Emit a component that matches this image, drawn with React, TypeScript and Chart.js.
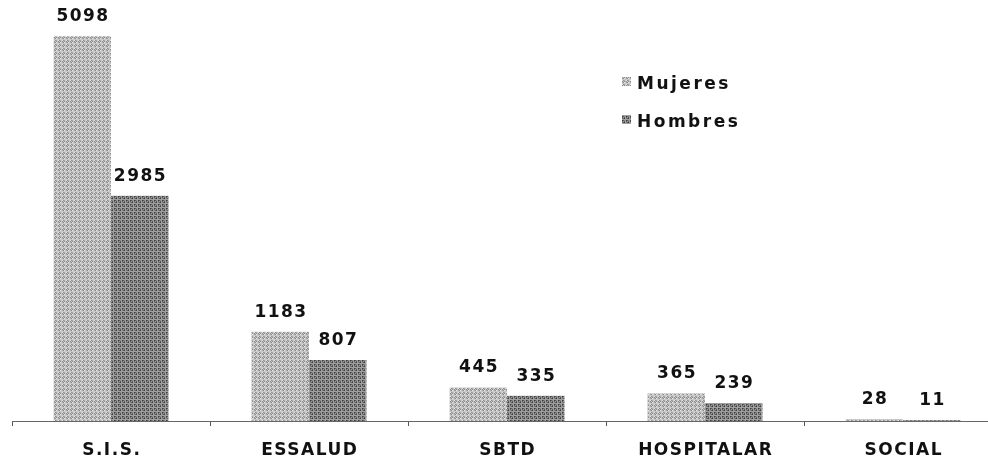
import React, { useEffect, useRef } from "react";
import { Chart, registerables } from "chart.js";

Chart.register(...registerables);

const categories = ["S.I.S.", "ESSALUD", "SBTD", "HOSPITALAR", "SOCIAL"];
const mujeres = [5098, 1183, 445, 365, 28];
const hombres = [2985, 807, 335, 239, 11];
const seriesNames = ["Mujeres", "Hombres"];

function makePattern(light: number, dark: number, seed: number): CanvasPattern | string {
  const c = document.createElement("canvas");
  c.width = 8;
  c.height = 8;
  const ctx = c.getContext("2d");
  if (!ctx) return `rgb(${light},${light},${light})`;
  for (let y = 0; y < 8; y++) {
    for (let x = 0; x < 8; x++) {
      const h = (x * 5 + y * 3 + ((x * y + seed) % 4)) % 4;
      const v = h === 0 ? dark : h === 1 ? Math.round((light + dark) / 2) : h === 2 ? light : Math.min(255, light + 30);
      ctx.fillStyle = `rgb(${v},${v},${v})`;
      ctx.fillRect(x, y, 1, 1);
    }
  }
  const p = ctx.createPattern(c, "repeat");
  return p || `rgb(${light},${light},${light})`;
}

const FONT = "'DejaVu Sans', 'Open Sans', sans-serif";

function spacedText(ctx: any, text: string, x: number, y: number, spacing: number) {
  ctx.letterSpacing = `${spacing}px`;
  ctx.fillText(text, x + spacing / 2, y);
  ctx.letterSpacing = "0px";
}

export default function App() {
  const ref = useRef<HTMLCanvasElement>(null);
  useEffect(() => {
    if (!ref.current) return;
    const fillM = makePattern(200, 140, 1);
    const fillH = makePattern(130, 60, 2);

    const labelsPlugin = {
      id: "valueLabels",
      afterDatasetsDraw(chart: any) {
        const ctx = chart.ctx;
        ctx.save();
        ctx.fillStyle = "#111";
        ctx.font = `bold 17px ${FONT}`;
        ctx.textAlign = "center";
        ctx.textBaseline = "alphabetic";
        chart.data.datasets.forEach((ds: any, di: number) => {
          const meta = chart.getDatasetMeta(di);
          meta.data.forEach((bar: any, i: number) => {
            spacedText(ctx, String(ds.data[i]), bar.x, bar.y - 15, 1.5);
          });
        });
        // category labels
        const xs = chart.scales.x;
        ctx.font = `bold 17px ${FONT}`;
        ctx.textBaseline = "alphabetic";
        categories.forEach((c, i) => {
          spacedText(ctx, c, xs.getPixelForValue(i), 455, 1.5);
        });
        // legend
        const lx = 622;
        const ly = [83, 121];
        chart.data.datasets.forEach((ds: any, di: number) => {
          ctx.fillStyle = ds.backgroundColor;
          ctx.fillRect(lx, ly[di] - 6, 9, 9);
          ctx.fillStyle = "#111";
          ctx.font = `bold 17px ${FONT}`;
          ctx.textAlign = "left";
          ctx.textBaseline = "alphabetic";
          ctx.letterSpacing = "2.5px";
          ctx.fillText(ds.label, lx + 15, ly[di] + 6);
          ctx.letterSpacing = "0px";
        });
        ctx.restore();
      },
    };

    const chart = new Chart(ref.current, {
      type: "bar",
      data: {
        labels: categories,
        datasets: [
          { label: seriesNames[0], data: mujeres, backgroundColor: fillM as any, borderWidth: 0 },
          { label: seriesNames[1], data: hombres, backgroundColor: fillH as any, borderWidth: 0 },
        ],
      },
      options: {
        animation: false,
        responsive: false,
        maintainAspectRatio: false,
        layout: { padding: { left: 12, right: 0, top: 0, bottom: 35 } },
        plugins: { legend: { display: false }, tooltip: { enabled: false } },
        datasets: { bar: { categoryPercentage: 0.58, barPercentage: 1.0 } },
        scales: {
          x: {
            grid: { display: true, drawOnChartArea: false, drawTicks: true, tickLength: 5, color: "#555", offset: true },
            border: { display: true, color: "#666", width: 1 },
            ticks: { display: false },
          },
          y: { display: false, min: 0, max: 5580 },
        },
      },
      plugins: [labelsPlugin],
    });
    return () => chart.destroy();
  }, []);
  return (
    <div style={{ position: "fixed", left: 0, top: 0, width: 988, height: 461, overflow: "hidden", background: "#fff" }}>
      <canvas ref={ref} width={1002} height={461} style={{ width: 1002, height: 461, display: "block" }} />
    </div>
  );
}
